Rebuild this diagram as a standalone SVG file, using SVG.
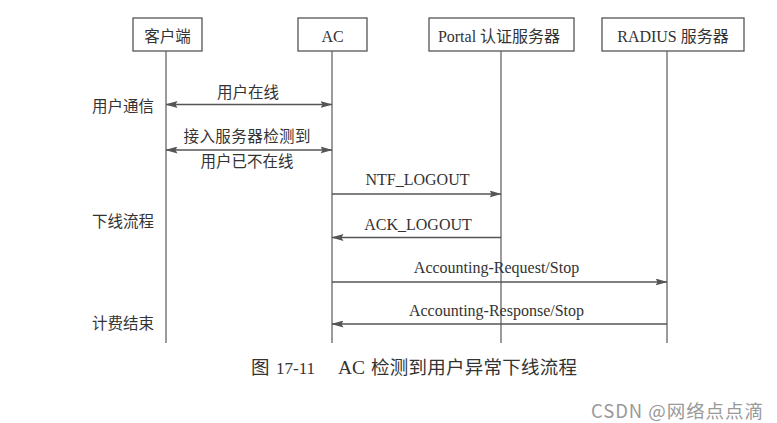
<svg xmlns="http://www.w3.org/2000/svg" width="777" height="423" viewBox="0 0 777 423">
<style>
.box{fill:#fff;stroke:#555;stroke-width:1.3}
.life{stroke:#666;stroke-width:1.3;fill:none}
.msg{stroke:#555;stroke-width:1.3;fill:none}
.t{font-family:"Liberation Serif","Noto Sans CJK SC",serif;font-size:16px;fill:#333}
.c{font-family:"Liberation Serif","Noto Sans CJK SC",serif;font-size:15.5px;fill:#333}
.mid{text-anchor:middle}
.cap{font-family:"Liberation Serif","Noto Sans CJK SC",serif;font-size:18.5px;fill:#333}
.wm{font-family:"Noto Sans CJK SC","Noto Sans",sans-serif;font-size:18.5px;fill:#999}
</style>
<defs>
<marker id="ah" viewBox="0 0 12 7" refX="11.5" refY="3.5" markerWidth="12" markerHeight="7" markerUnits="userSpaceOnUse" orient="auto-start-reverse">
<path d="M0,0 L12,3.5 L0,7 L2,3.5 z" fill="#555"/>
</marker>
</defs>
<rect width="777" height="423" fill="#fff"/>
<g id="client">
<rect class="box" x="133" y="18" width="69" height="33"/>
<text class="c mid" x="167.5" y="42">客户端</text>
<line class="life" x1="166" y1="51" x2="166" y2="343"/>
</g>
<g id="ac">
<rect class="box" x="298" y="18" width="69" height="33"/>
<text class="t mid" x="332.5" y="42">AC</text>
<line class="life" x1="332" y1="51" x2="332" y2="343"/>
</g>
<g id="portal">
<rect class="box" x="429" y="18" width="145" height="33"/>
<text class="t mid" x="499" y="42">Portal 认证服务器</text>
<line class="life" x1="501" y1="51" x2="501" y2="343"/>
</g>
<g id="radius">
<rect class="box" x="602" y="18" width="142" height="33"/>
<text class="t mid" x="673" y="42">RADIUS 服务器</text>
<line class="life" x1="667" y1="51" x2="667" y2="343"/>
</g>
<g id="phases">
<text class="c" x="92" y="112">用户通信</text>
<text class="c" x="92" y="227">下线流程</text>
<text class="c" x="92" y="329">计费结束</text>
</g>
<g id="connectors">
<line class="msg" x1="166" y1="104.5" x2="332" y2="104.5" marker-start="url(#ah)" marker-end="url(#ah)"/>
<text class="c mid" x="248" y="98">用户在线</text>
<line class="msg" x1="166" y1="150" x2="332" y2="150" marker-start="url(#ah)" marker-end="url(#ah)"/>
<text class="c mid" x="247" y="142" textLength="127">接入服务器检测到</text>
<text class="c mid" x="247" y="167">用户已不在线</text>
<line class="msg" x1="332" y1="194" x2="501" y2="194" marker-end="url(#ah)"/>
<text class="t mid" x="417.5" y="185">NTF_LOGOUT</text>
<line class="msg" x1="501" y1="237.5" x2="332" y2="237.5" marker-end="url(#ah)"/>
<text class="t mid" x="418" y="230">ACK_LOGOUT</text>
<line class="msg" x1="332" y1="282" x2="667" y2="282" marker-end="url(#ah)"/>
<text class="t mid" x="496.5" y="273">Accounting-Request/Stop</text>
<line class="msg" x1="667" y1="324" x2="332" y2="324" marker-end="url(#ah)"/>
<text class="t mid" x="496.5" y="316">Accounting-Response/Stop</text>
</g>
<text class="cap" y="374"><tspan x="251">图</tspan><tspan x="276" style="font-size:17px">17-11</tspan><tspan x="338" style="font-size:19.5px">AC</tspan><tspan x="371" textLength="206">检测到用户异常下线流程</tspan></text>
<text class="wm" x="591" y="418" textLength="172">CSDN @网络点点滴</text>
</svg>
